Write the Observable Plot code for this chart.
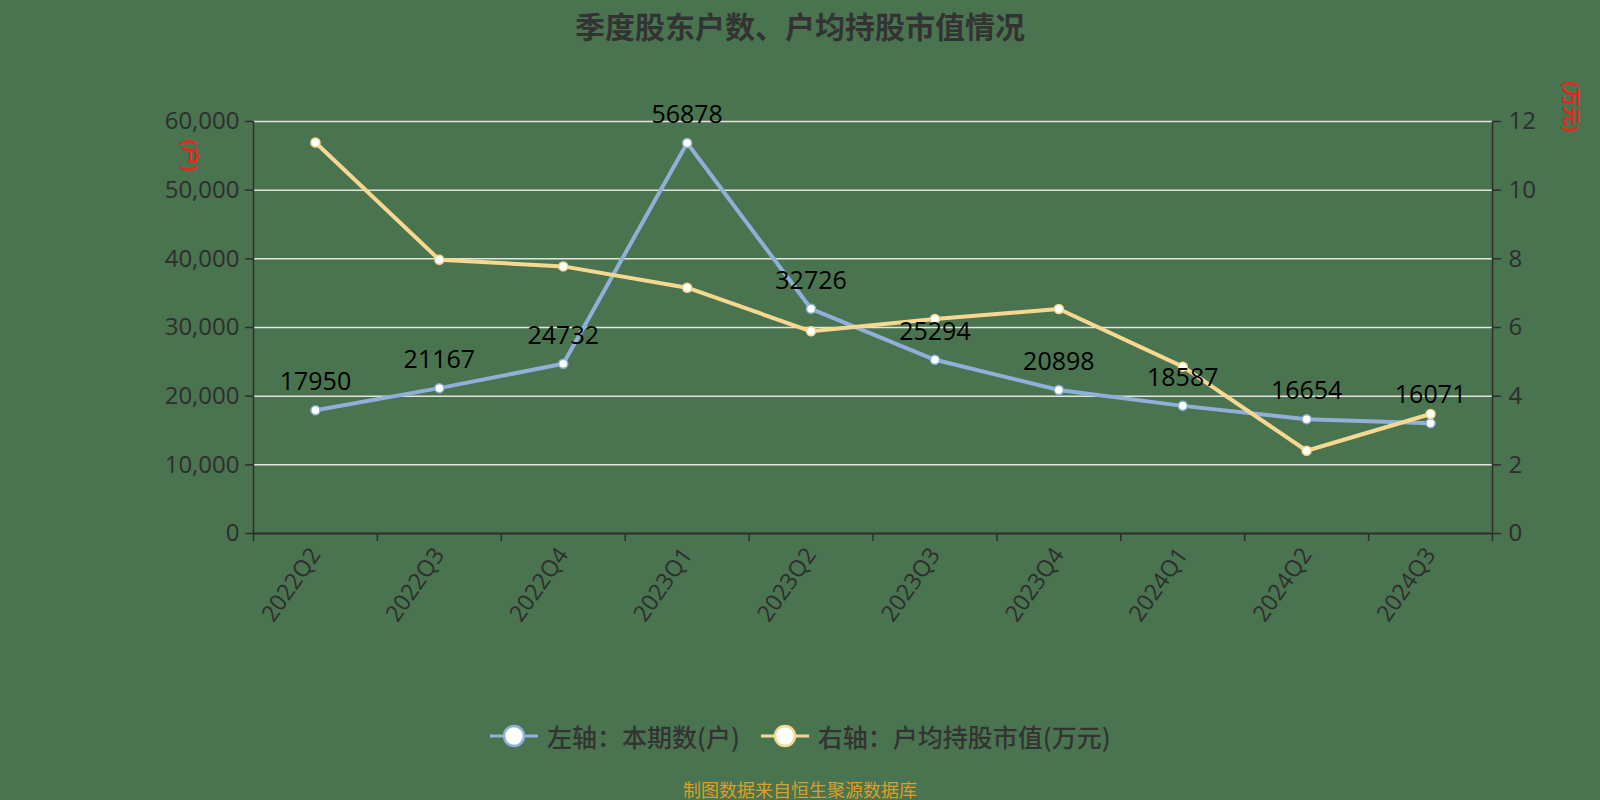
<!DOCTYPE html>
<html>
<head>
<meta charset="utf-8">
<script src="https://cdn.jsdelivr.net/npm/d3@7"></script>
<script src="https://cdn.jsdelivr.net/npm/@observablehq/plot@0.6"></script>
<style>
  html, body { margin: 0; padding: 0; }
  body { width: 1600px; height: 800px; background: #4a7350; font-family: "Open Sans", "Noto Sans CJK SC", sans-serif; overflow: hidden; }
  #wrap { position: relative; width: 1600px; height: 800px; }
  #title { position: absolute; top: 3px; left: 0; width: 1600px; text-align: center; font-size: 30px; font-weight: bold; color: #333; font-family: "Noto Sans CJK SC", sans-serif; }
  #chart { position: absolute; top: 0; left: 0; }
  #legend { position: absolute; top: 718px; left: 489px; display: flex; align-items: center; font-size: 25px; color: #333; font-family: "Noto Sans CJK SC", sans-serif; font-weight: 500; }
  .item { display: flex; align-items: center; margin-right: 20px; }
  .item svg { margin-right: 8px; }
  #caption { position: absolute; top: 776px; left: 0; width: 1600px; text-align: center; font-size: 18px; color: #d9a02a; font-family: "Noto Sans CJK SC", sans-serif; }
</style>
</head>
<body>
<div id="wrap">
  <div id="title"></div>
  <div id="chart"></div>
  <div id="legend"></div>
  <div id="caption"></div>
</div>
<script>
const titleText = "季度股东户数、户均持股市值情况";
const captionText = "制图数据来自恒生聚源数据库";
const quarters = ["2022Q2","2022Q3","2022Q4","2023Q1","2023Q2","2023Q3","2023Q4","2024Q1","2024Q2","2024Q3"];
const holders = [17950, 21167, 24732, 56878, 32726, 25294, 20898, 18587, 16654, 16071];
const avgValue = [11.39, 7.97, 7.78, 7.16, 5.89, 6.25, 6.54, 4.86, 2.41, 3.48];
const leftTicks = [0, 10000, 20000, 30000, 40000, 50000, 60000];
const rightTicks = [0, 2, 4, 6, 8, 10, 12];
const seriesNames = ["左轴：本期数(户)", "右轴：户均持股市值(万元)"];
const leftUnit = "(户)";
const rightUnit = "(万元)";
const blue = "#8fb0d9";
const yellow = "#f7d891";
const ratio = 60000 / 12;

const rows = quarters.map((q, i) => ({ i: i + 0.5, q, holders: holders[i], avg: avgValue[i] * ratio }));

document.getElementById("title").textContent = titleText;
document.getElementById("caption").textContent = captionText;

const axisColor = "#2e2e2e";
const chart = Plot.plot({
  width: 1600,
  height: 800,
  marginLeft: 253,
  marginRight: 108,
  marginTop: 121,
  marginBottom: 267,
  style: { background: "transparent", fontFamily: "'Open Sans', 'Noto Sans CJK SC', sans-serif", color: axisColor, overflow: "visible" },
  x: { type: "linear", domain: [0, quarters.length], axis: null },
  y: { domain: [0, 60000], axis: null },
  marks: [
    Plot.ruleY(leftTicks.slice(1), { stroke: "#e4e4dc", strokeWidth: 1.5 }),
    Plot.axisY(leftTicks, { anchor: "left", label: null, tickFormat: d3.format(","), tickSize: 8, tickPadding: 6, fontSize: 24, stroke: axisColor, strokeWidth: 1.5, fill: axisColor }),
    Plot.axisY(rightTicks.map(v => v * ratio), { anchor: "right", label: null, tickFormat: d => d / ratio, tickSize: 8, tickPadding: 8, fontSize: 24, stroke: axisColor, strokeWidth: 1.5, fill: axisColor }),
    Plot.ruleX([0, quarters.length], { y1: 0, y2: 60000, stroke: axisColor, strokeWidth: 1.5 }),
    Plot.ruleY([0], { stroke: axisColor, strokeWidth: 2 }),
    Plot.axisX(d3.range(quarters.length + 1), { anchor: "bottom", label: null, tickSize: 8, tickFormat: () => "", stroke: axisColor, strokeWidth: 1.5 }),
    Plot.axisX(rows.map(d => d.i), { anchor: "bottom", label: null, tickSize: 0, tickPadding: 17, tickRotate: -55, fontSize: 23, fill: axisColor, tickFormat: i => quarters[Math.floor(i)] }),
    Plot.line(rows, { x: "i", y: "holders", stroke: blue, strokeWidth: 4 }),
    Plot.line(rows, { x: "i", y: "avg", stroke: yellow, strokeWidth: 4 }),
    Plot.dot(rows, { x: "i", y: "holders", r: 4.5, fill: "white", stroke: blue, strokeWidth: 1.5 }),
    Plot.dot(rows, { x: "i", y: "avg", r: 4.5, fill: "white", stroke: yellow, strokeWidth: 1.5 }),
    Plot.text(rows, { x: "i", y: "holders", text: d => String(d.holders), dy: -28, fontSize: 25, fill: "#000" }),
    Plot.text([leftUnit], { frameAnchor: "top-left", text: d => d, textAnchor: "middle", lineAnchor: "middle", dx: -64, dy: 34, rotate: 90, fontSize: 19, fontWeight: "bold", fill: "#e8251c" }),
    Plot.text([rightUnit], { frameAnchor: "top-right", text: d => d, textAnchor: "middle", lineAnchor: "middle", dx: 78, dy: -15, rotate: 90, fontSize: 19, fontWeight: "bold", fill: "#e8251c" })
  ]
});
document.getElementById("chart").appendChild(chart);

const legend = document.getElementById("legend");
[blue, yellow].forEach((c, k) => {
  const item = document.createElement("div");
  item.className = "item";
  item.innerHTML = `<svg width="50" height="26"><line x1="1" x2="49" y1="13" y2="13" stroke="${c}" stroke-width="3"/><circle cx="25" cy="13" r="10" fill="white" stroke="${c}" stroke-width="2.5"/></svg><span>${seriesNames[k]}</span>`;
  legend.appendChild(item);
});
</script>
</body>
</html>
